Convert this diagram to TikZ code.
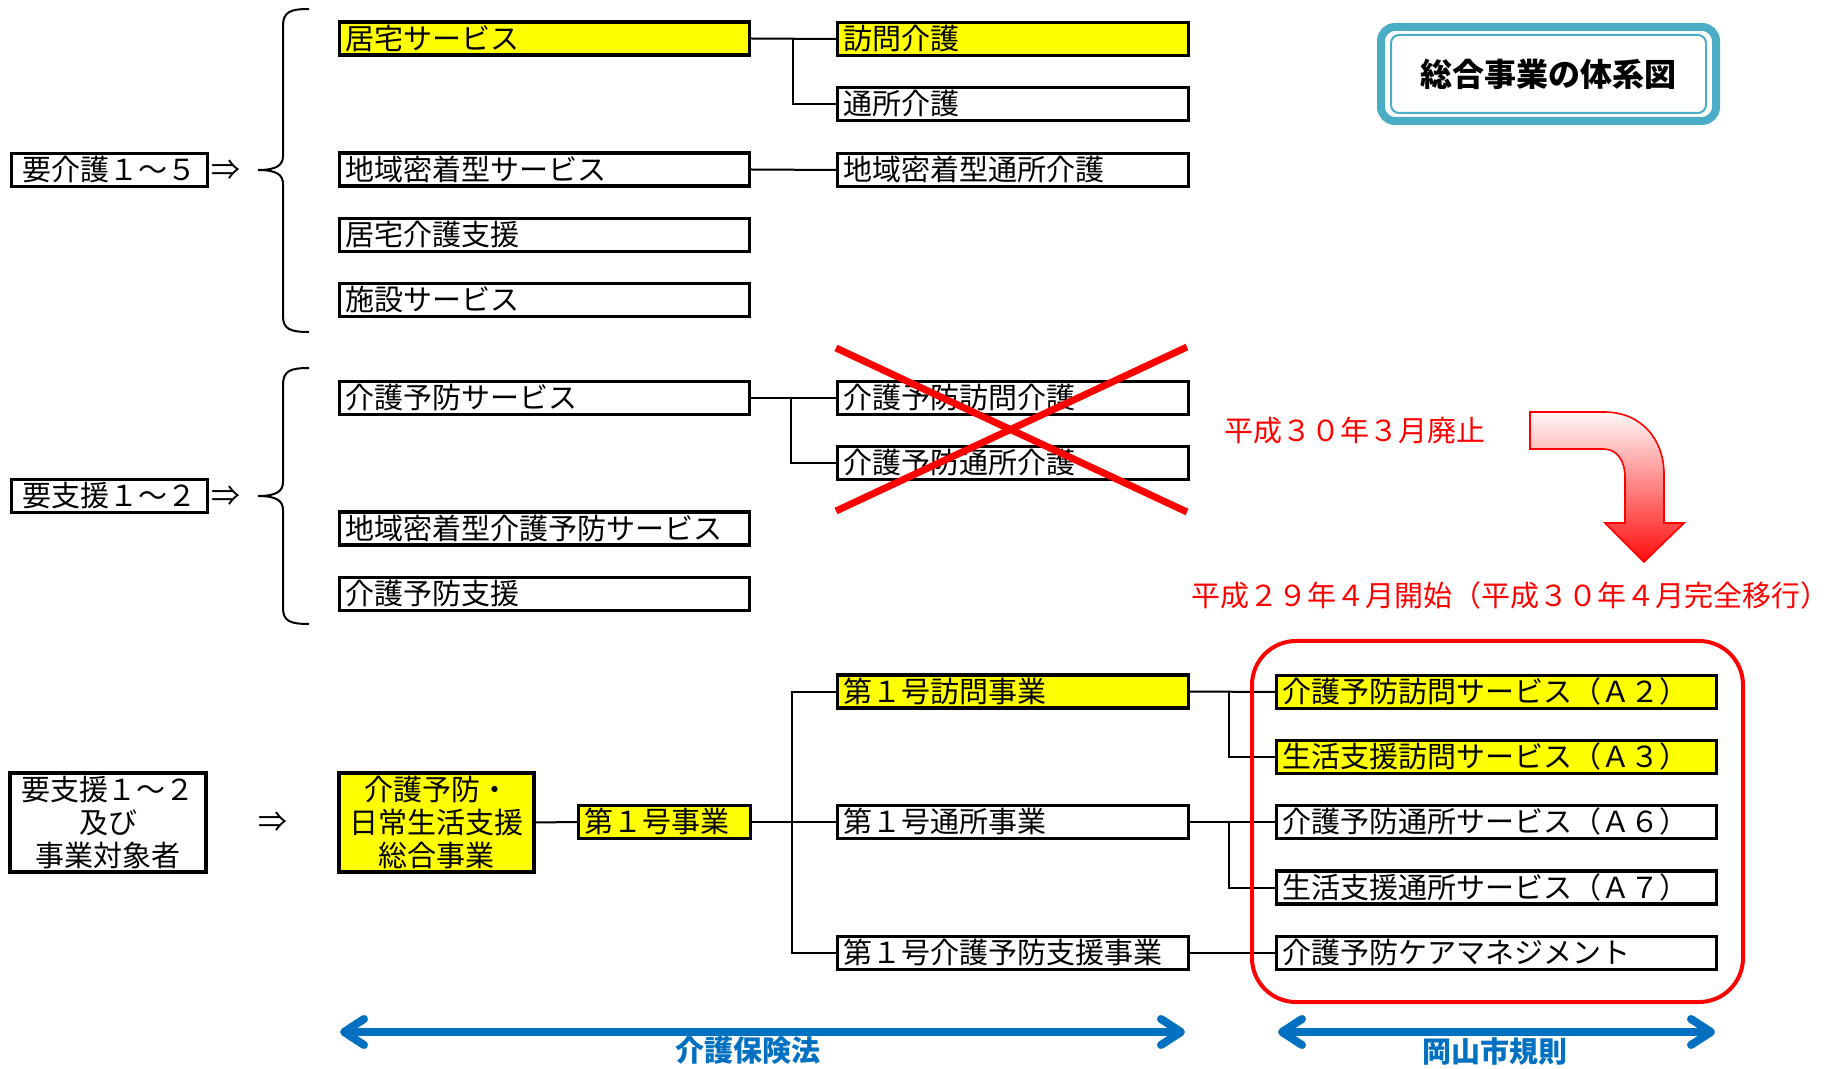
\documentclass[tikz,border=0pt]{standalone}
\usepackage{fontspec}
\newfontfamily\jp{Noto Sans CJK JP}
\usetikzlibrary{arrows.meta}
\definecolor{tealb}{RGB}{75,172,198}
\definecolor{blu}{RGB}{0,112,192}
\definecolor{ylw}{RGB}{255,255,0}
\definecolor{rd}{RGB}{255,0,0}
\begin{document}
\begin{tikzpicture}[x=0.5pt,y=-0.5pt,
  jpf/.style={font=\jp\fontsize{14.5pt}{16.5pt}\selectfont},
  bx/.style={jpf, draw, line width=1.6pt, inner xsep=3pt, inner ysep=0.5pt, minimum height=16.5pt, anchor=west, align=left, text height=12.6pt, text depth=1.9pt},
  colA/.style={bx, text width=199pt},
  colB/.style={bx, text width=169.5pt},
  colC/.style={bx, text width=214pt},
  yl/.style={fill=ylw},
  lbl/.style={jpf, draw, line width=1.6pt, minimum width=98pt, minimum height=16.5pt, inner sep=0.5pt, anchor=west, align=center, text height=12.6pt, text depth=1.9pt},
  mlbox/.style={jpf, draw, line width=1.6pt, inner sep=0.5pt, align=center},
  conn/.style={line width=1pt},
  impl/.style={jpf, inner sep=0pt},
  brace/.style={line width=1pt},
  blarrow/.style={blu, line width=4pt, {Straight Barb[length=10pt,width=13pt,round]}-{Straight Barb[length=10pt,width=13pt,round]}},
  bltext/.style={font=\jp\bfseries\fontsize{14.5pt}{16.5pt}\selectfont, text=blu, inner sep=0pt},
]
\useasboundingbox (0,0) rectangle (1838,1069);

% ---------- section 1 ----------
\node[lbl] (L1) at (10,170) {要介護１～５};
\node[impl] (i1) at (226,170) {⇒};
\draw[brace] (309,9) .. controls (290,9) and (283,12) .. (283,26) -- (283,156) .. controls (283,165) and (277,170) .. (258,170)
             .. controls (277,170) and (283,175) .. (283,184) -- (283,316) .. controls (283,329) and (290,332) .. (309,332);

\node[colA, yl] (a1) at (338,38.5) {居宅サービス};
\node[colA] (a2) at (338,169.5) {地域密着型サービス};
\node[colA] (a3) at (338,235) {居宅介護支援};
\node[colA] (a4) at (338,300) {施設サービス};

\node[colB, yl] (c1) at (836,39) {訪問介護};
\node[colB] (c2) at (836,104) {通所介護};
\node[colB] (c3) at (836,170) {地域密着型通所介護};

\coordinate (J1) at (793,0);
\draw[conn] (a1.east) -- (c1.west);
\draw[conn] (a1.east -| J1) |- (c2.west);
\draw[conn] (a2.east) -- (c3.west);

% title
\draw[tealb, line width=4pt, rounded corners=7pt] (1381,27) rectangle (1716,121);
\draw[tealb, line width=1pt, rounded corners=4pt] (1391,35) rectangle (1706,113);
\node[font=\jp\bfseries\fontsize{16pt}{18pt}\selectfont, inner sep=0pt] (title) at (1548,74) {総合事業の体系図};

% ---------- section 2 ----------
\node[lbl] (L2) at (10,496) {要支援１～２};
\node[impl] (i2) at (226,496) {⇒};
\draw[brace] (309,368) .. controls (290,368) and (283,371) .. (283,385) -- (283,482) .. controls (283,491) and (277,496) .. (258,496)
             .. controls (277,496) and (283,501) .. (283,510) -- (283,608) .. controls (283,621) and (290,624) .. (309,624);

\node[colA] (b1) at (338,398) {介護予防サービス};
\node[colA] (b2) at (338,528.5) {地域密着型介護予防サービス};
\node[colA] (b3) at (338,594) {介護予防支援};

\node[colB] (d1) at (836,398) {介護予防訪問介護};
\node[colB] (d2) at (836,463) {介護予防通所介護};

\coordinate (J2) at (791,0);
\draw[conn] (b1.east) -- (d1.west);
\draw[conn] (b1.east -| J2) |- (d2.west);

\draw[rd, line width=3.5pt] (836,348) -- (1187,512);
\draw[rd, line width=3.5pt] (836,511) -- (1187,347);

\node[jpf, text=rd, inner sep=0pt] (t1) at (1355,431) {平成３０年３月廃止};
\path[draw=rd, line width=0.8pt, top color=rd!3, bottom color=rd!95]
  (1530,412) -- (1604,412) .. controls (1642,412) and (1664,440) .. (1664,474) -- (1664,523) -- (1684,523) -- (1644,562)
  -- (1605,523) -- (1625,523) -- (1625,478) .. controls (1625,460) and (1617,449) .. (1603,449) -- (1530,449) -- cycle;
\node[jpf, text=rd, inner sep=0pt] (t2) at (1510,595) {平成２９年４月開始（平成３０年４月完全移行）};

% ---------- section 3 ----------
\node[mlbox, minimum width=98pt, minimum height=49.5pt] (L3) at (108,822.5) {要支援１～２\\及び\\事業対象者};
\node[impl] (i3) at (273,822) {⇒};
\node[mlbox, yl, minimum width=97.5pt, minimum height=49.5pt] (g) at (436.5,822.5) {介護予防・\\日常生活支援\\総合事業};
\node[bx, yl, text width=80pt] (h) at (577,822) {第１号事業};

\node[colB, yl] (e1) at (836,691.5) {第１号訪問事業};
\node[colB] (e2) at (836,822) {第１号通所事業};
\node[colB] (e3) at (836,953) {第１号介護予防支援事業};

\node[colC, yl] (f1) at (1275,692) {介護予防訪問サービス（Ａ２）};
\node[colC, yl] (f2) at (1275,757) {生活支援訪問サービス（Ａ３）};
\node[colC] (f3) at (1275,822) {介護予防通所サービス（Ａ６）};
\node[colC] (f4) at (1275,887.5) {生活支援通所サービス（Ａ７）};
\node[colC] (f5) at (1275,953) {介護予防ケアマネジメント};

\coordinate (J3) at (792,0);
\coordinate (J4) at (1229,0);
\draw[conn] (g.east) -- (h.west);
\draw[conn] (h.east) -- (e2.west);
\draw[conn] (e1.west) -- (e1.west -| J3) -- (e3.west -| J3) -- (e3.west);
\draw[conn] (e1.east) -- (f1.west);
\draw[conn] (e1.east -| J4) |- (f2.west);
\draw[conn] (e2.east) -- (f3.west);
\draw[conn] (e2.east -| J4) |- (f4.west);
\draw[conn] (e3.east) -- (f5.west);

\draw[rd, line width=2pt, rounded corners=22pt] (1252,641) rectangle (1743,1002);

% ranges
\coordinate (k1) at (340,1032);
\coordinate (k2) at (1185,1032);
\coordinate (k3) at (1278,1032);
\coordinate (k4) at (1715,1032);
\draw[blarrow] (k1) -- (k2);
\draw[blarrow] (k3) -- (k4);
\node[bltext] (law1) at (748,1051) {介護保険法};
\node[bltext] (law2) at (1495,1051) {岡山市規則};
\end{tikzpicture}
\end{document}
